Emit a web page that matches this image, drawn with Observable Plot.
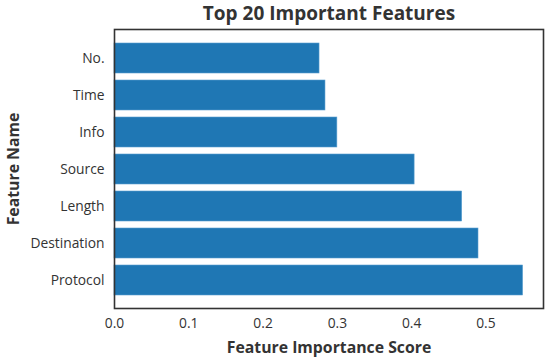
<!DOCTYPE html>
<html>
<head>
<meta charset="utf-8">
<script src="https://cdn.jsdelivr.net/npm/d3@7"></script>
<script src="https://cdn.jsdelivr.net/npm/@observablehq/plot@0.6"></script>
<style>
  html, body { margin: 0; padding: 0; background: #fff; }
  #chart svg { display: block; }
</style>
</head>
<body>
<div id="chart"></div>
<script>
const features = ["No.", "Time", "Info", "Source", "Length", "Destination", "Protocol"];
const scores = [0.276, 0.284, 0.300, 0.404, 0.468, 0.490, 0.550];
const xTicks = [0.0, 0.1, 0.2, 0.3, 0.4, 0.5];
const titleText = "Top 20 Important Features";

const data = features.map((f, i) => ({feature: f, score: scores[i]}));
const font = "'Open Sans', 'DejaVu Sans', sans-serif";

const chart = Plot.plot({
  width: 550,
  height: 360,
  marginLeft: 114,
  marginRight: 7,
  marginTop: 29,
  marginBottom: 52,
  style: {fontFamily: font, fontSize: "13.8px", color: "#333", background: "#fff"},
  x: {
    domain: [0, 0.5775],
    ticks: xTicks,
    tickFormat: d3.format(".1f"),
    tickSize: 0,
    tickPadding: 10,
    label: "Feature Importance Score",
    labelAnchor: "center",
    labelArrow: "none",
    labelOffset: 44
  },
  y: {
    domain: features,
    paddingInner: 0.2,
    paddingOuter: 0.34,
    tickSize: 0,
    tickPadding: 10,
    label: "Feature Name",
    labelAnchor: "center",
    labelArrow: "none",
    labelOffset: 107
  },
  marks: [
    Plot.barX(data, {x: "score", y: "feature", fill: "#1f77b4", stroke: "#5a9fd0", strokeWidth: 0.6}),
    Plot.frame({stroke: "#333", strokeWidth: 1.6}),
    Plot.text([titleText], {frameAnchor: "top", dy: -23, text: d => d, fontSize: 19, fontWeight: "bold", fill: "#333"})
  ]
});

chart.querySelectorAll("[aria-label='x-axis label'] text, [aria-label='y-axis label'] text").forEach(t => {
  t.setAttribute("font-weight", "bold");
  t.setAttribute("font-size", "15.8");
  t.setAttribute("fill", "#333");
});
document.getElementById("chart").appendChild(chart);
</script>
</body>
</html>
